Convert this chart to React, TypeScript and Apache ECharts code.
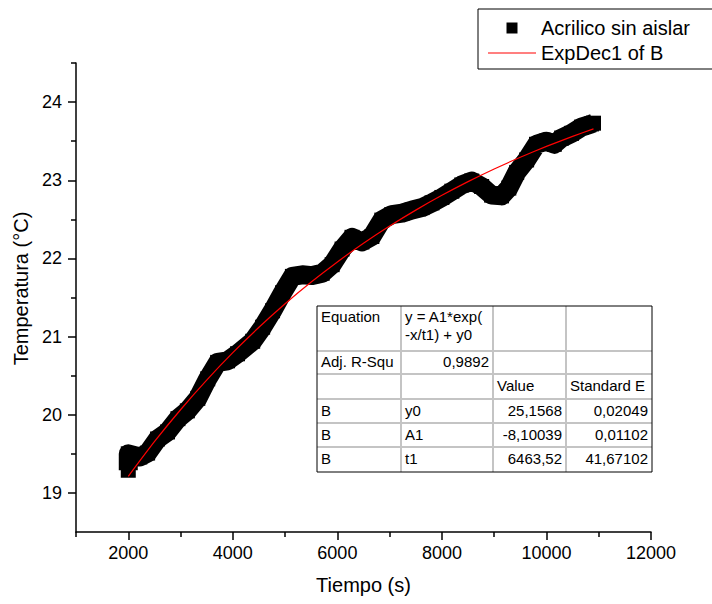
import React, { useEffect, useRef } from "react";
import * as echarts from "echarts";

const timeS = [2000, 2000, 2220, 2370, 2560, 2750, 2950, 3130, 3330, 3520, 3710, 3900, 4090, 4380, 4570, 4760, 4950, 5140, 5330, 5520, 5710, 5900, 6090, 6280, 6470, 6660, 6850, 7040, 7240, 7430, 7620, 7810, 8000, 8190, 8380, 8570, 8760, 8950, 9140, 9280, 9430, 9620, 9810, 10000, 10150, 10290, 10480, 10670, 10860, 10900];
const tempC = [19.29, 19.5, 19.46, 19.51, 19.69, 19.78, 19.95, 20.05, 20.21, 20.46, 20.67, 20.69, 20.78, 20.94, 21.12, 21.33, 21.56, 21.77, 21.79, 21.78, 21.81, 21.92, 22.12, 22.27, 22.21, 22.28, 22.49, 22.56, 22.58, 22.62, 22.65, 22.71, 22.78, 22.86, 22.94, 22.99, 22.92, 22.81, 22.8, 22.9, 23.1, 23.26, 23.46, 23.5, 23.46, 23.54, 23.6, 23.68, 23.72, 23.73];

// ExpDec1 fit curve values
const fitTime = [2000, 2500, 3000, 3500, 4000, 4500, 5000, 5500, 6000, 6500, 7000, 7500, 8000, 8500, 9000, 9500, 10000, 10500, 10900];
const fitTemp = [19.212, 19.655, 20.064, 20.443, 20.794, 21.119, 21.42, 21.698, 21.955, 22.194, 22.414, 22.618, 22.807, 22.982, 23.144, 23.294, 23.433, 23.561, 23.657];

const xMajorTicks = [2000, 4000, 6000, 8000, 10000, 12000];
const xMinorTicks = [1000, 3000, 5000, 7000, 9000, 11000];
const yMajorTicks = [19, 20, 21, 22, 23, 24];
const yMinorTicks = [19.5, 20.5, 21.5, 22.5, 23.5, 24.5];

const seriesNames = ["Acrilico sin aislar", "ExpDec1 of B"];

const tableRows = [
  ["Equation", "y = A1*exp(\n-x/t1) + y0", "", ""],
  ["Adj. R-Squ", "0,9892", "", ""],
  ["", "", "Value", "Standard E"],
  ["B", "y0", "25,1568", "0,02049"],
  ["B", "A1", "-8,10039", "0,01102"],
  ["B", "t1", "6463,52", "41,67102"],
];
const tableAlign = [
  ["left", "left", "left", "left"],
  ["left", "right", "left", "left"],
  ["left", "left", "left", "left"],
  ["left", "left", "right", "right"],
  ["left", "left", "right", "right"],
  ["left", "left", "right", "right"],
];

const FONT = "Liberation Sans, Arial, sans-serif";

function buildTable() {
  const colX = [0, 84, 176, 249, 335];
  const rowY = [0, 45, 68, 93, 117, 141, 166];
  const W = colX[colX.length - 1];
  const H = rowY[rowY.length - 1];
  const children: any[] = [];
  children.push({
    type: "rect",
    shape: { x: 0, y: 0, width: W, height: H },
    style: { fill: "#fff", stroke: "none" },
  });
  for (let i = 1; i < rowY.length - 1; i++) {
    children.push({
      type: "line",
      shape: { x1: 0, y1: rowY[i], x2: W, y2: rowY[i] },
      style: { stroke: "#c4c4c4", lineWidth: 2 },
    });
  }
  for (let j = 1; j < colX.length - 1; j++) {
    children.push({
      type: "line",
      shape: { x1: colX[j], y1: 0, x2: colX[j], y2: H },
      style: { stroke: "#c4c4c4", lineWidth: 2 },
    });
  }
  children.push({
    type: "rect",
    shape: { x: 0, y: 0, width: W, height: H },
    style: { fill: "none", stroke: "#000", lineWidth: 1 },
  });
  tableRows.forEach((row, r) => {
    row.forEach((txt, c) => {
      if (!txt) return;
      const al = tableAlign[r][c];
      const x = al === "left" ? colX[c] + 4 : colX[c + 1] - 4;
      const top = r === 0;
      children.push({
        type: "text",
        x,
        y: top ? rowY[r] + 1 : (rowY[r] + rowY[r + 1]) / 2 - 1,
        style: {
          text: txt,
          fill: "#000",
          fontSize: 15,
          fontFamily: FONT,
          lineHeight: 18,
          align: al,
          textAlign: al,
          verticalAlign: top ? "top" : "middle",
          textVerticalAlign: top ? "top" : "middle",
        },
      });
    });
  });
  return { type: "group", x: 317, y: 306, z: 100, children };
}

export default function App() {
  const ref = useRef<HTMLDivElement>(null);
  useEffect(() => {
    document.body.style.margin = "0";
    const chart = echarts.init(ref.current!, null, { renderer: "svg" });
    const axisLineStyle = { color: "#000", width: 1.5 };
    const option: any = {
      animation: false,
      backgroundColor: "#fff",
      textStyle: { fontFamily: FONT, color: "#000" },
      grid: { left: 76, top: 63, width: 575, height: 469, containLabel: false },
      legend: {
        left: 478,
        top: 9,
        orient: "vertical",
        borderColor: "#000",
        borderWidth: 1,
        borderRadius: 0,
        padding: [9, 40, 6, 10],
        itemGap: 5,
        itemWidth: 48,
        itemHeight: 11,
        textStyle: { fontSize: 20, color: "#000", fontFamily: FONT },
        data: [
          { name: seriesNames[0], icon: "path://M0,0L10,0L10,10L0,10Z" },
          { name: seriesNames[1], icon: "path://M0,0L48,0L48,1.2L0,1.2Z" },
        ],
      },
      xAxis: [
        {
          type: "value",
          min: 1000,
          max: 12000,
          position: "bottom",
          name: "Tiempo (s)",
          nameLocation: "middle",
          nameGap: 43,
          nameTextStyle: { fontSize: 20, color: "#000", fontFamily: FONT },
          axisLine: { show: true, lineStyle: axisLineStyle },
          axisTick: { show: true, inside: false, length: 8, customValues: xMajorTicks, lineStyle: axisLineStyle },
          axisLabel: {
            show: true,
            margin: 12,
            fontSize: 18,
            color: "#000",
            fontFamily: FONT,
            customValues: xMajorTicks,
            formatter: (v: number) => String(v),
          },
          splitLine: { show: false },
        },
        {
          type: "value",
          min: 1000,
          max: 12000,
          position: "bottom",
          axisLine: { show: false },
          axisTick: { show: true, inside: false, length: 5, customValues: xMinorTicks, lineStyle: axisLineStyle },
          axisLabel: { show: false },
          splitLine: { show: false },
        },
      ],
      yAxis: [
        {
          type: "value",
          min: 18.5,
          max: 24.5,
          position: "left",
          name: "Temperatura (°C)",
          nameLocation: "middle",
          nameGap: 44,
          nameTextStyle: { fontSize: 20, color: "#000", fontFamily: FONT, padding: [0, 0, 0, 18] },
          axisLine: { show: true, lineStyle: axisLineStyle },
          axisTick: { show: true, inside: false, length: 8, customValues: yMajorTicks, lineStyle: axisLineStyle },
          axisLabel: {
            show: true,
            margin: 14,
            fontSize: 18,
            color: "#000",
            fontFamily: FONT,
            customValues: yMajorTicks,
            formatter: (v: number) => String(v),
          },
          splitLine: { show: false },
        },
        {
          type: "value",
          min: 18.5,
          max: 24.5,
          position: "left",
          axisLine: { show: false },
          axisTick: { show: true, inside: false, length: 5, customValues: yMinorTicks, lineStyle: axisLineStyle },
          axisLabel: { show: false },
          splitLine: { show: false },
        },
      ],
      series: [
        {
          name: seriesNames[0],
          type: "line",
          xAxisIndex: 0,
          yAxisIndex: 0,
          data: timeS.map((t, i) => [t, tempC[i]]),
          symbol: "rect",
          symbolSize: 15,
          showSymbol: true,
          itemStyle: { color: "#000" },
          lineStyle: { color: "#000", width: 19, cap: "butt", join: "round" },
          z: 2,
        },
        {
          name: seriesNames[1],
          type: "line",
          xAxisIndex: 0,
          yAxisIndex: 0,
          data: fitTime.map((t, i) => [t, fitTemp[i]]),
          symbol: "none",
          smooth: 0.2,
          itemStyle: { color: "#ff0000" },
          lineStyle: { color: "#ff0000", width: 1.2 },
          z: 3,
        },
      ],
      graphic: [buildTable()],
    };
    chart.setOption(option);
    return () => chart.dispose();
  }, []);
  return <div ref={ref} style={{ width: 712, height: 604 }} />;
}
